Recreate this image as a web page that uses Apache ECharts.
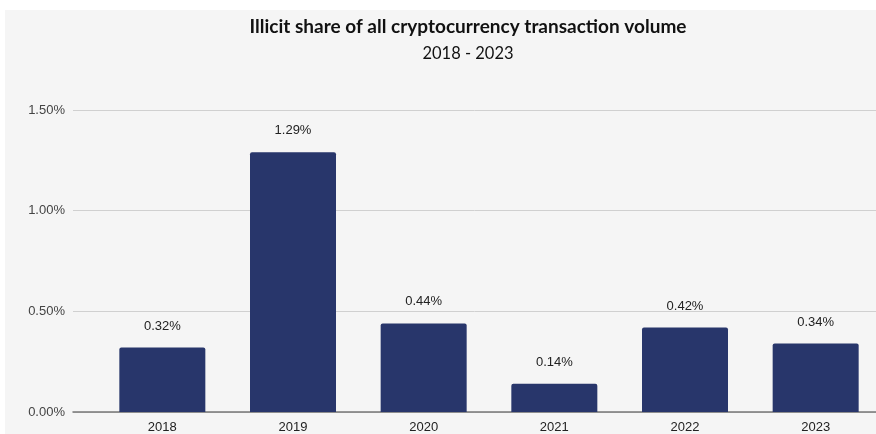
<!DOCTYPE html>
<html>
<head>
<meta charset="utf-8">
<script src="https://cdn.jsdelivr.net/npm/echarts@6/dist/echarts.min.js"></script>
<style>
  html, body { margin: 0; padding: 0; background: #ffffff; }
  #chart { width: 876px; height: 434px; }
</style>
</head>
<body>
<div id="chart"></div>
<script>
  // data
  var years = ['2018', '2019', '2020', '2021', '2022', '2023'];
  var illicitShare = [0.32, 1.29, 0.44, 0.14, 0.42, 0.34];
  var yTicks = [0, 0.5, 1.0, 1.5];

  var chart = echarts.init(document.getElementById('chart'));

  var option = {
    backgroundColor: '#ffffff',
    animation: false,
    graphic: [{
      type: 'rect',
      left: 5, top: 10, z: -10,
      shape: { width: 871, height: 424 },
      style: { fill: '#f5f5f5' }
    }],
    title: [{
      text: 'Illicit share of all cryptocurrency transaction volume',
      left: 463, top: 12, textAlign: 'center',
      textStyle: { fontFamily: 'Lato', fontWeight: 'bold', fontSize: 19, color: '#111' }
    }, {
      text: '2018 - 2023',
      left: 463, top: 40, textAlign: 'center',
      textStyle: { fontFamily: 'Lato', fontWeight: 'normal', fontSize: 16.5, color: '#111' }
    }],
    grid: [
      // bars (chart runs a little past the right edge of the picture)
      { left: 97, width: 784, top: 110, bottom: 22, outerBoundsMode: 'none' },
      // gridlines + baseline spanning wider
      { left: 73, right: 0, top: 110, bottom: 22, outerBoundsMode: 'none' }
    ],
    xAxis: [{
      type: 'category',
      gridIndex: 0,
      data: years,
      axisLine: { show: false },
      axisTick: { show: false },
      axisLabel: { color: '#222', fontSize: 13, fontFamily: 'Arial', margin: 9 }
    }, {
      type: 'value',
      gridIndex: 1,
      min: 0, max: 1,
      axisLine: { show: true, lineStyle: { color: '#777', width: 1.5 } },
      axisTick: { show: false },
      axisLabel: { show: false },
      splitLine: { show: false }
    }],
    yAxis: [{
      type: 'value',
      gridIndex: 0,
      min: yTicks[0], max: yTicks[yTicks.length - 1], interval: 0.5,
      axisLine: { show: false },
      axisTick: { show: false },
      axisLabel: { show: false },
      splitLine: { show: false }
    }, {
      type: 'value',
      gridIndex: 1,
      min: yTicks[0], max: yTicks[yTicks.length - 1], interval: 0.5,
      axisLine: { show: false },
      axisTick: { show: false },
      axisLabel: {
        color: '#444', fontSize: 13, fontFamily: 'Arial', margin: 8,
        formatter: function (v) { return v.toFixed(2) + '%'; }
      },
      splitLine: { lineStyle: { color: '#d0d0d0', width: 1 } }
    }],
    series: [{
      type: 'bar',
      xAxisIndex: 0,
      yAxisIndex: 0,
      data: illicitShare,
      barWidth: 86,
      itemStyle: { color: '#28366b', borderRadius: [2, 2, 0, 0] },
      label: {
        show: true,
        position: 'top',
        distance: 15,
        color: '#222',
        fontSize: 13,
        fontFamily: 'Arial',
        formatter: function (p) { return p.value.toFixed(2) + '%'; }
      }
    }]
  };

  chart.setOption(option);
</script>
</body>
</html>
